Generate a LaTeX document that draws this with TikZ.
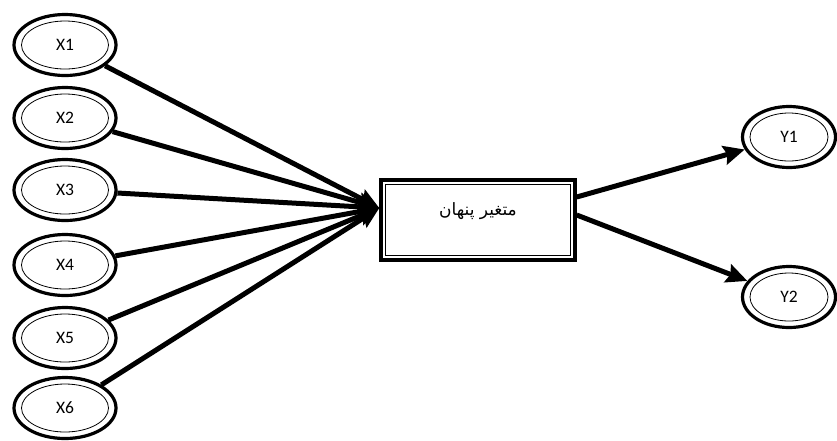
\documentclass[tikz,border=0pt]{standalone}
\usepackage{fontspec}
\setsansfont{Carlito}
\newfontfamily\persianfont[Script=Arabic]{DejaVu Sans}
\TeXXeTstate=1
\usetikzlibrary{arrows.meta, shapes.geometric, positioning, calc}

\tikzset{
  obs/.style={ellipse, draw, line width=3.2pt, minimum width=102pt, minimum height=61pt, font=\sffamily\fontsize{17.5}{19}\selectfont},
  latent/.style={rectangle, draw, line width=3.4pt, minimum width=194pt, minimum height=80pt},
  path/.style={line width=5pt, -{Stealth[length=21pt,width=19pt,inset=3pt]}},
}

\begin{document}
\begin{tikzpicture}[x=1pt, y=-1pt]
  \useasboundingbox (0,0) rectangle (837,440);
  % latent variable box
  \node[latent] (box) at (478,220) {};
  \draw[line width=0.8pt] ($(box.north west)+(6,6)$) rectangle ($(box.south east)+(-6,-6)$);
  \node[font=\persianfont\fontsize{17}{19}\selectfont] (lbl) at (478,211) {\beginR متغیر پنهان\endR};
  % indicators
  \foreach \i/\y in {1/45, 2/118, 3/190, 4/265, 5/338, 6/408} {
    \node[obs] (X\i) at (65,\y) {X\i};
    \draw[line width=0.8pt] (X\i.center) ellipse[x radius=43.5, y radius=24];
  }
  \node[obs, minimum width=93pt] (Y1) at (789,137) {Y1};
  \draw[line width=0.8pt] (Y1.center) ellipse[x radius=39, y radius=24];
  \node[obs, minimum width=93pt] (Y2) at (789,297) {Y2};
  \draw[line width=0.8pt] (Y2.center) ellipse[x radius=39, y radius=24];
  % arrows into the box
  \coordinate (hub) at ([yshift=12pt]box.west);
  \foreach \i in {1,...,6}
    \draw[path] (X\i) -- (hub);
  % arrows out of the box
  \draw[path] ([yshift=23pt]box.east) -- (Y1);
  \draw[path] ([yshift=5pt]box.east) -- (Y2);
\end{tikzpicture}
\end{document}
